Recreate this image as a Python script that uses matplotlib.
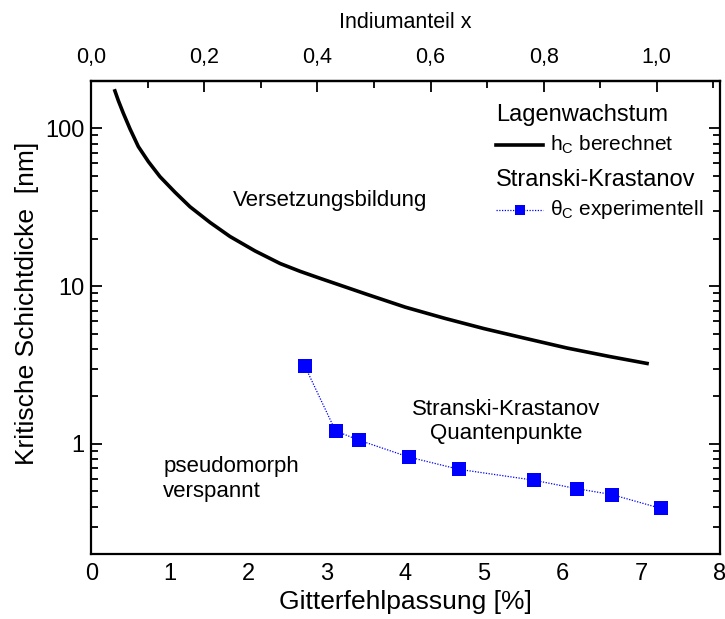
import matplotlib
matplotlib.use("Agg")
import matplotlib.pyplot as plt
from matplotlib.ticker import FixedLocator, NullFormatter, FuncFormatter
from matplotlib.lines import Line2D

plt.rcParams['font.family'] = ['Liberation Sans', 'DejaVu Sans']
plt.rcParams['mathtext.default'] = 'regular'

# Critical thickness h_c (layer growth), mismatch in %
h_mismatch = [0.293, 0.344, 0.408, 0.493, 0.599, 0.727, 0.875, 1.066, 1.257,
              1.512, 1.767, 2.085, 2.404, 2.659, 2.913, 3.50, 4.00, 4.50,
              5.00, 5.50, 6.06, 6.60, 7.10]
h_thick = [176.7, 149.7, 124.4, 99.0, 76.5, 61.4, 49.3, 39.3, 31.8,
           25.3, 20.6, 16.7, 13.9, 12.4, 11.2, 8.9, 7.35, 6.25,
           5.38, 4.7, 4.05, 3.58, 3.22]

# Stranski-Krastanov critical coverage theta_c (experiment)
sk_mismatch = [2.72, 3.11, 3.41, 4.04, 4.68, 5.64, 6.18, 6.63, 7.25]
sk_thick = [3.11, 1.21, 1.056, 0.827, 0.691, 0.589, 0.521, 0.478, 0.391]

x_ticks = [0, 1, 2, 3, 4, 5, 6, 7, 8]
y_ticks = [1, 10, 100]
top_ticks = [0.0, 0.2, 0.4, 0.6, 0.8, 1.0]
top_minor = [0.1, 0.3, 0.5, 0.7, 0.9, 1.1]
MISMATCH_INAS = 7.2  # % mismatch at x = 1

fig = plt.figure(figsize=(7.25, 6.19), dpi=100)
ax = fig.add_axes([91.3 / 725, (619 - 554.3) / 619, 628.2 / 725, 473.6 / 619])

ax.plot(h_mismatch, h_thick, color='black', lw=2.6, solid_capstyle='butt')
ax.plot(sk_mismatch, sk_thick, color='#0000ff', lw=0.9, ls=(0, (1, 1.2)),
        marker='s', markersize=10.5, markeredgewidth=0)

ax.set_yscale('log')
ax.set_xlim(0, 8)
ax.set_ylim(0.2, 200)
ax.set_xticks(x_ticks)
ax.set_yticks(y_ticks)
ax.yaxis.set_major_formatter(FuncFormatter(lambda v, p: f"{v:g}"))
ax.yaxis.set_minor_formatter(NullFormatter())

for s in ax.spines.values():
    s.set_linewidth(1.6)

ax.tick_params(axis='both', which='both', direction='in', labelsize=17,
               right=True, top=False, width=1.3)
ax.tick_params(axis='both', which='major', length=8)
ax.tick_params(axis='both', which='minor', length=5)
ax.tick_params(axis='y', which='major', pad=5)
ax.tick_params(axis='x', which='both', bottom=False, pad=6)

sec = ax.secondary_xaxis('top', functions=(lambda f: f / MISMATCH_INAS,
                                          lambda x: x * MISMATCH_INAS))
sec.xaxis.set_major_locator(FixedLocator(top_ticks))
sec.xaxis.set_minor_locator(FixedLocator(top_minor))
sec.xaxis.set_major_formatter(FuncFormatter(lambda v, p: f"{v:.1f}".replace('.', ',')))
sec.tick_params(which='both', direction='in', labelsize=15.5, width=1.3, pad=9)
sec.tick_params(which='major', length=8)
sec.tick_params(which='minor', length=5)
sec.spines['top'].set_linewidth(1.6)
sec.set_xlabel('Indiumanteil x', fontsize=15.5, labelpad=14)

ax.set_xlabel('Gitterfehlpassung [%]', fontsize=19, labelpad=4)
ax.set_ylabel('Kritische Schichtdicke  [nm]', fontsize=19, labelpad=4)
ax.yaxis.label.set_y(0.53)

ax.text(3.04, 35, 'Versetzungsbildung', fontsize=16, ha='center', va='center')
ax.text(5.28, 1.38, 'Stranski-Krastanov\nQuantenpunkte', fontsize=16,
        ha='center', va='center', linespacing=1.2)
ax.text(0.915, 0.60, 'pseudomorph\nverspannt', fontsize=16, ha='left',
        va='center', linespacing=1.2)

# Legend block
tr = ax.transAxes
ax.text(0.644, 0.928, 'Lagenwachstum', transform=tr, fontsize=17, va='center')
ax.add_line(Line2D([0.644, 0.719], [0.864, 0.864], transform=tr,
                   color='black', lw=2.6))
ax.text(0.730, 0.864, 'h$_\\mathregular{C}$ berechnet', transform=tr,
        fontsize=15, va='center')
ax.text(0.644, 0.790, 'Stranski-Krastanov', transform=tr, fontsize=17, va='center')
ax.add_line(Line2D([0.644, 0.719], [0.728, 0.728], transform=tr,
                   color='#0000ff', lw=0.9, ls=(0, (1, 1.2))))
ax.add_line(Line2D([0.682], [0.728], transform=tr, color='#0000ff',
                   marker='s', markersize=6.8, markeredgewidth=0))
ax.text(0.730, 0.728, 'θ$_\\mathregular{C}$ experimentell', transform=tr,
        fontsize=15, va='center')

fig.savefig('out.png', dpi=100)
